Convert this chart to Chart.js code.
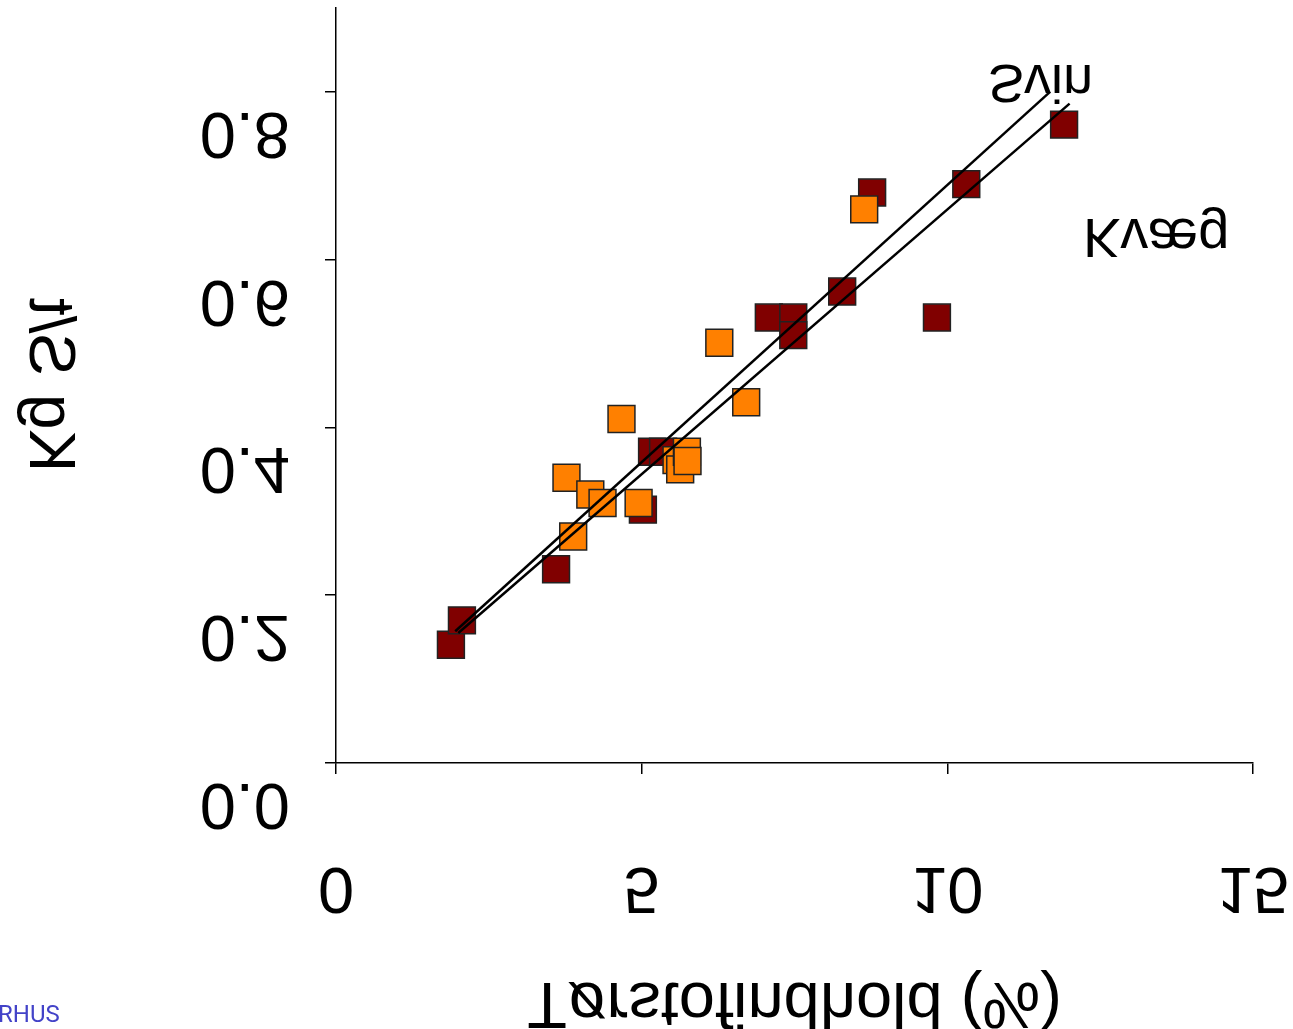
<!DOCTYPE html>
<html>
<head>
<meta charset="utf-8">
<script src="https://cdn.jsdelivr.net/npm/chart.js@4"></script>
<style>
    body { margin: 0; background: #fff; font-family: "Liberation Sans", Arial, sans-serif; }
    #wrap { width: 1293px; height: 1029px; }
</style>
</head>
<body>
<div id="wrap"><canvas id="torstofChart" width="1293" height="1029"></canvas></div>
<script>
// Kvæg (cattle) measurements
const kvaegX = [1.88, 2.06, 3.60, 5.02, 5.17, 5.35, 7.08, 7.48, 7.48, 8.28, 8.77, 9.83, 10.31, 11.91];
const kvaegY = [0.141, 0.170, 0.231, 0.302, 0.371, 0.371, 0.531, 0.531, 0.510, 0.562, 0.680, 0.531, 0.690, 0.761];

// Svin (pig) measurements
const svinX = [4.67, 3.77, 4.16, 4.36, 4.95, 3.88, 5.57, 5.63, 5.74, 5.75, 6.27, 6.71, 8.64];
const svinY = [0.410, 0.340, 0.320, 0.310, 0.310, 0.270, 0.361, 0.350, 0.371, 0.360, 0.501, 0.430, 0.660];

// regression lines, start and end points
const svinLinjeX = [1.95, 11.68];
const svinLinjeY = [0.157, 0.800];
const kvaegLinjeX = [2.0, 12.0];
const kvaegLinjeY = [0.155, 0.786];

const xTicks = [0, 5, 10, 15];
const yTicks = [0.0, 0.2, 0.4, 0.6, 0.8];

const xTitle = "Tørstofindhold (%)";
const yTitle = "Kg S/t";

const toPoints = (xs, ys) => xs.map((x, i) => ({ x: x, y: ys[i] }));

const FONT = '"Liberation Sans", Arial, sans-serif';

// text is drawn mirrored top-to-bottom around its baseline
function flipText(ctx, text, x, y, align, size, rotate) {
    ctx.save();
    ctx.translate(x, y);
    if (rotate) ctx.rotate(rotate);
    ctx.scale(1, -1);
    ctx.font = size + "px " + FONT;
    ctx.fillStyle = "#000";
    ctx.textAlign = align;
    ctx.textBaseline = "alphabetic";
    ctx.fillText(text, 0, 0);
    ctx.restore();
}

const labelPlugin = {
    id: "flippedLabels",
    afterDraw(chart) {
        const ctx = chart.ctx;
        const xs = chart.scales.x;
        const ys = chart.scales.y;

        yTicks.forEach(v => {
            flipText(ctx, v.toFixed(1), xs.left - 46, ys.getPixelForValue(v) + 21, "right", 65);
        });
        xTicks.forEach(v => {
            flipText(ctx, String(v), xs.getPixelForValue(v), ys.bottom + 105, "center", 65);
        });

        flipText(ctx, xTitle, (xs.left + xs.right) / 2, 983, "center", 65);
        flipText(ctx, yTitle, 30, 385, "center", 64, -Math.PI / 2);

        flipText(ctx, "Svin", 988, 65, "left", 54);
        flipText(ctx, "Kvæg", 1083, 219, "left", 56);

        ctx.save();
        ctx.font = "24px Roboto, sans-serif";
        ctx.fillStyle = "#4343c8";
        ctx.textAlign = "left";
        ctx.textBaseline = "alphabetic";
        ctx.fillText("RHUS", -2, 1022);
        ctx.restore();
    }
};

function drawChart() {
    const ctx = document.getElementById("torstofChart").getContext("2d");

    const lineStyle = {
        type: "scatter",
        showLine: true,
        borderColor: "#000",
        borderWidth: 2.5,
        pointRadius: 0,
        fill: false
    };

    const data = {
        datasets: [
            Object.assign({ label: "Svin linje", data: toPoints(svinLinjeX, svinLinjeY) }, lineStyle),
            Object.assign({ label: "Kvæg linje", data: toPoints(kvaegLinjeX, kvaegLinjeY) }, lineStyle),
            {
                label: "Svin",
                data: toPoints(svinX, svinY),
                pointStyle: "rect",
                pointRadius: 19,
                backgroundColor: "#ff8000",
                borderColor: "#222",
                borderWidth: 1.5
            },
            {
                label: "Kvæg",
                data: toPoints(kvaegX, kvaegY),
                pointStyle: "rect",
                pointRadius: 19,
                backgroundColor: "#800000",
                borderColor: "#222",
                borderWidth: 1.5
            }
        ]
    };

    const axisGrid = {
        drawOnChartArea: false,
        drawTicks: true,
        tickLength: 11,
        color: "#000",
        lineWidth: 1.5
    };

    const options = {
        responsive: false,
        animation: false,
        layout: {
            autoPadding: false,
            padding: { left: 0, top: 8, right: 40, bottom: 0 }
        },
        plugins: {
            legend: { display: false },
            tooltip: { enabled: false }
        },
        scales: {
            x: {
                type: "linear",
                min: 0,
                max: 15,
                ticks: { display: false, stepSize: 5 },
                grid: axisGrid,
                border: { display: true, color: "#000", width: 1.5 },
                afterBuildTicks: (scale) => { scale.ticks = xTicks.map(v => ({ value: v })); },
                afterFit: (scale) => { scale.height = 266; }
            },
            y: {
                type: "linear",
                min: 0,
                max: 0.9,
                ticks: { display: false, stepSize: 0.2 },
                grid: axisGrid,
                border: { display: true, color: "#000", width: 1.5 },
                afterBuildTicks: (scale) => { scale.ticks = yTicks.map(v => ({ value: v })); },
                afterFit: (scale) => { scale.width = 336; }
            }
        }
    };

    new Chart(ctx, {
        type: "scatter",
        data: data,
        options: options,
        plugins: [labelPlugin]
    });
}

document.addEventListener("DOMContentLoaded", () => {
    Promise.all([
        document.fonts.load('65px "Liberation Sans"'),
        document.fonts.load("24px Roboto")
    ]).then(drawChart, drawChart);
});
</script>
</body>
</html>
